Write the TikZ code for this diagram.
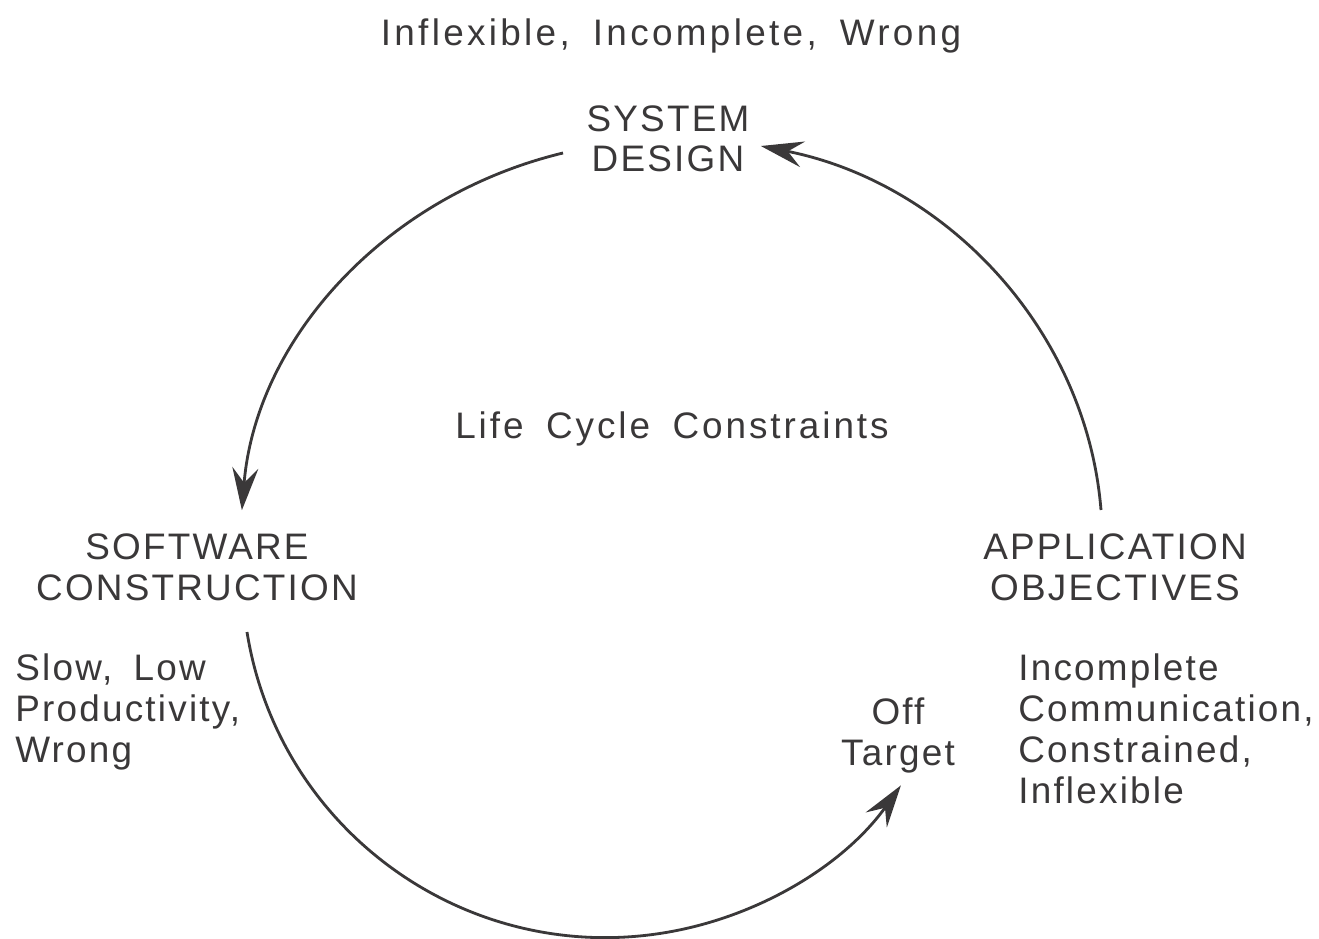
\documentclass[tikz,border=0pt]{standalone}
\usepackage{fontspec}
\setmainfont{Liberation Sans}[LetterSpace=6, WordSpace=1.7]
\usetikzlibrary{arrows.meta,positioning}
\definecolor{ink}{HTML}{3A3839}
\tikzset{
  lbl style/.style={inner sep=0pt, text=ink, align=center, anchor=base,
    font=\fontsize{21}{23.25}\selectfont},
  note style/.style={lbl style, align=left, anchor=base west},
  arr style/.style={-{Stealth[length=0.85cm, width=0.52cm, inset=0.3cm]}, line width=1.6pt, draw=ink}
}
\begin{document}
\begin{tikzpicture}[x=0.02cm, y=0.02cm]
\useasboundingbox (0,0) rectangle (1319,-939);
\node[lbl style] (top)  at (671,-46)  {\addfontfeatures{LetterSpace=9}Inflexible, Incomplete, Wrong};
\node[lbl style] (sd)   at (668,-172) {SYSTEM\\DESIGN};
\node[lbl style] (lcc)  at (672,-438) {\addfontfeatures{LetterSpace=8}Life Cycle Constraints};
\node[lbl style] (sc)   at (197,-600) {SOFTWARE\\CONSTRUCTION};
\node[lbl style] (ao)   at (1115,-600) {APPLICATION\\OBJECTIVES};
\node[note style] (slow) at (15,-762)  {Slow, Low\\Productivity,\\Wrong};
\node[lbl style] (off)  at (898,-765) {Off\\Target};
\node[note style] (inc) at (1018,-803) {Incomplete\\Communication,\\Constrained,\\Inflexible};
% arc end points
\coordinate (sd-out) at (563,-153);
\coordinate (sc-out) at (247,-632);
\coordinate (ao-out) at (1101,-510);
\draw[arr style] (sd-out) arc[start angle=104.5, end angle=175.7, x radius=430, y radius=400];
\draw[arr style] (ao-out) arc[start angle=4.3, end angle=78, x radius=431, y radius=403];
\draw[arr style] (sc-out) arc[start angle=189.1, end angle=324.5, radius=363];
\end{tikzpicture}
\end{document}
